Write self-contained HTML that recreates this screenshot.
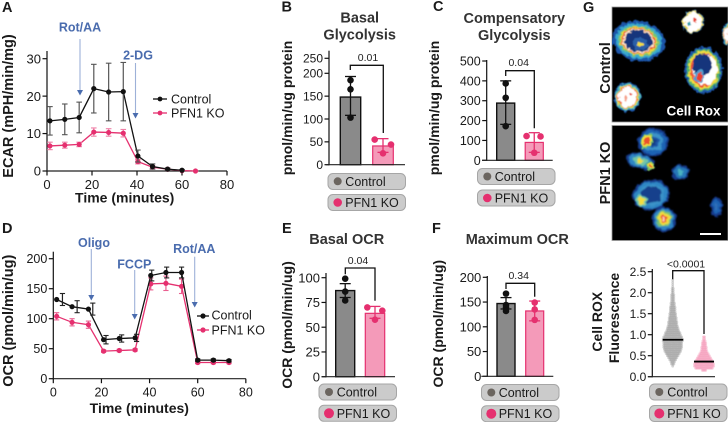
<!DOCTYPE html>
<html lang="en">
<head>
<meta charset="utf-8">
<title>PFN1 KO metabolic figure</title>
<style>
html,body{margin:0;padding:0;background:#fff;}
body{width:728px;height:422px;overflow:hidden;}
svg{display:block;font-family:"Liberation Sans",Arial,sans-serif;}
.letter{font-size:14.5px;font-weight:700;fill:#1a1a1a;}
.title{font-size:14.5px;font-weight:700;fill:#333;text-anchor:middle;}
.axt{font-size:14px;font-weight:700;fill:#1a1a1a;text-anchor:middle;}
.drug{font-size:12.5px;font-weight:700;fill:#4a6cae;text-anchor:middle;}
.leg{font-size:12.5px;fill:#1a1a1a;}
.p{font-size:10.5px;fill:#222;text-anchor:middle;}
.pill{fill:#cbcbcb;stroke:#a6a6a6;stroke-width:1;}
</style>
</head>
<body>
<svg id="fig" width="728" height="422" viewBox="0 0 728 422" xmlns="http://www.w3.org/2000/svg">
<defs>
<filter id="soft" x="-30%" y="-30%" width="160%" height="160%"><feTurbulence type="fractalNoise" baseFrequency="0.2" numOctaves="2" seed="5" result="n"/><feDisplacementMap in="SourceGraphic" in2="n" scale="5" xChannelSelector="R" yChannelSelector="G"/><feGaussianBlur stdDeviation="0.8"/></filter>
<filter id="softer" x="-30%" y="-30%" width="160%" height="160%"><feTurbulence type="fractalNoise" baseFrequency="0.25" numOctaves="2" seed="3" result="n"/><feDisplacementMap in="SourceGraphic" in2="n" scale="6" xChannelSelector="R" yChannelSelector="G"/><feGaussianBlur stdDeviation="0.4"/></filter>
<clipPath id="clipTop"><rect x="612" y="7" width="116" height="115"/></clipPath>
<clipPath id="clipBot"><rect x="612" y="125.5" width="116" height="115"/></clipPath>
</defs>

<text class="letter" x="2" y="12">A</text>
<text class="letter" x="281.5" y="11.5">B</text>
<text class="letter" x="433" y="11">C</text>
<text class="letter" x="2" y="233">D</text>
<text class="letter" x="282" y="233">E</text>
<text class="letter" x="432" y="233">F</text>
<text class="letter" x="583" y="12">G</text>

<text class="axt" style="font-size:14.5px" transform="translate(13,106) rotate(-90)">ECAR (mPH/min/mg)</text>
<text class="axt" x="124.7" y="202.5">Time (minutes)</text>
<text class="drug" x="80" y="31.5">Rot/AA</text>
<text class="drug" x="138" y="59.5">2-DG</text>
<text class="leg" x="171" y="103.5">Control</text>
<text class="leg" x="171" y="117.5">PFN1 KO</text>

<text class="axt" style="font-size:14.5px" transform="translate(13,320.7) rotate(-90)">OCR (pmol/min/ug)</text>
<text class="axt" x="139.3" y="413">Time (minutes)</text>
<text class="drug" x="94" y="247">Oligo</text>
<text class="drug" x="134.3" y="268.7">FCCP</text>
<text class="drug" x="194.3" y="253">Rot/AA</text>
<text class="leg" x="211.5" y="319.5">Control</text>
<text class="leg" x="211.5" y="334.5">PFN1 KO</text>

<text class="title" x="359.7" y="22.5">Basal</text>
<text class="title" x="359.7" y="39.5">Glycolysis</text>
<text class="axt" transform="translate(292,108) rotate(-90)">pmol/min/ug protein</text>
<text class="p" x="368" y="61">0.01</text>

<text class="title" x="514.3" y="23">Compensatory</text>
<text class="title" x="514.3" y="40">Glycolysis</text>
<text class="axt" transform="translate(439,108) rotate(-90)">pmol/min/ug protein</text>
<text class="p" x="518.7" y="66">0.04</text>

<text class="title" x="346.7" y="244">Basal OCR</text>
<text class="axt" transform="translate(292,325) rotate(-90)">OCR (pmol/min/ug)</text>
<text class="p" x="358" y="264">0.04</text>

<text class="title" x="517.3" y="244">Maximum OCR</text>
<text class="axt" transform="translate(443,323.7) rotate(-90)">OCR (pmol/min/ug)</text>
<text class="p" x="518.7" y="279">0.34</text>

<g>
<rect class="pill" x="328" y="173.5" width="77.5" height="16" rx="5"/><circle cx="337.7" cy="181.3" r="4" fill="#6b655f"/><text class="leg" x="345.3" y="186">Control</text>
<rect class="pill" x="328" y="194.5" width="77.5" height="16" rx="5"/><circle cx="337.7" cy="202.5" r="4.3" fill="#e5306f"/><text class="leg" x="345.3" y="207">PFN1 KO</text>
</g>
<g>
<rect class="pill" x="477.5" y="168.5" width="77.5" height="16" rx="5"/><circle cx="487.3" cy="176.5" r="4" fill="#6b655f"/><text class="leg" x="494.7" y="181">Control</text>
<rect class="pill" x="477.5" y="190" width="77.5" height="16" rx="5"/><circle cx="487.3" cy="198" r="4.3" fill="#e5306f"/><text class="leg" x="494.7" y="202.5">PFN1 KO</text>
</g>
<g>
<rect class="pill" x="319" y="384" width="77.5" height="16" rx="5"/><circle cx="329" cy="392" r="4" fill="#6b655f"/><text class="leg" x="336.7" y="396.5">Control</text>
<rect class="pill" x="319" y="405.3" width="77.5" height="16" rx="5"/><circle cx="329" cy="413.3" r="5" fill="#e5306f"/><text class="leg" x="336.7" y="418">PFN1 KO</text>
</g>
<g>
<rect class="pill" x="481.5" y="384.5" width="77.5" height="16" rx="5"/><circle cx="491.3" cy="392.5" r="4" fill="#6b655f"/><text class="leg" x="498.7" y="397">Control</text>
<rect class="pill" x="481.5" y="405.7" width="77.5" height="16" rx="5"/><circle cx="491.3" cy="413.7" r="5" fill="#e5306f"/><text class="leg" x="498.7" y="418.2">PFN1 KO</text>
</g>
<g>
<rect class="pill" x="649.5" y="384" width="77.5" height="16" rx="5"/><circle cx="659.3" cy="392" r="4" fill="#6b655f"/><text class="leg" x="667.3" y="396.5">Control</text>
<rect class="pill" x="649.5" y="405.5" width="77.5" height="16" rx="5"/><circle cx="659.3" cy="413.5" r="5" fill="#e5306f"/><text class="leg" x="667.3" y="418">PFN1 KO</text>
</g>

<rect x="612" y="7" width="116" height="115" fill="#000" stroke="#999" stroke-width="0.8"/>
<g id="cellsTop" clip-path="url(#clipTop)"></g>
<rect x="612" y="125.5" width="116" height="115" fill="#000" stroke="#999" stroke-width="0.8"/>
<g id="cellsBot" clip-path="url(#clipBot)"></g>
<text x="666.5" y="115.5" font-size="13.5" font-weight="700" fill="#fff">Cell Rox</text>
<rect x="700" y="233" width="21" height="2" fill="#fff"/>
<text class="axt" style="font-size:14.5px" transform="translate(610,68) rotate(-90)">Control</text>
<text class="axt" style="font-size:14.5px" transform="translate(610,173) rotate(-90)">PFN1 KO</text>

<text class="axt" transform="translate(602,321.7) rotate(-90)">Cell ROX</text>
<text class="axt" transform="translate(619,318) rotate(-90)">Fluorescence</text>
<text class="p" x="686" y="267.5">&lt;0.0001</text>
</svg>

<script>
// ---------- Panel A data (ECAR) ----------
const ecarControlTime = [1.3, 7.9, 14.3, 20.8, 27.4, 33.9, 40.4, 46.9, 53.6, 60];
const ecarControlMean = [13.4, 13.8, 14.3, 22, 21.1, 21.2, 4, 1.2, 0.5, 0.2];
const ecarControlErr = [3.8, 4.1, 4.1, 6.5, 7.7, 7.8, 1.6, 0.7, 0.3, 0.2];
const ecarKoTime = [1.3, 7.9, 14.3, 20.8, 27.4, 33.9, 40.4, 46.9, 53.6, 60, 66];
const ecarKoMean = [6.7, 6.9, 7.1, 10.4, 10.3, 10.1, 2.5, 1, 0.5, 0.1, 0];
const ecarKoErr = [1, 0.8, 0.6, 1.1, 1, 1, 0.6, 0.4, 0.2, 0.1, 0];
const ecarXTicks = [0, 20, 40, 60, 80];
const ecarYTicks = [0, 10, 20, 30];

// ---------- Panel D data (OCR) ----------
const ocrTime = [1.4, 7.8, 14.6, 20.9, 27.4, 34, 40.5, 46.8, 53.3, 60, 66.5, 73];
const ocrControlMean = [132, 120, 116, 65, 67, 68, 172, 177, 177, 31, 31, 30];
const ocrControlErr = [10, 10, 10, 7, 6, 6, 9, 9, 9, 2, 2, 2];
const ocrControlErrTime = [3.8, 9.9, 16.4, 21.9, 28.4, 34.6, 40.9, 47.1, 53.3, 60, 66.5, 73];
const ocrKoMean = [104, 94, 90, 46, 47, 48, 158, 159, 154, 27, 27, 27];
const ocrKoErr = [6, 6, 6, 2, 2, 2, 10, 12, 12, 2, 2, 2];
const ocrXTicks = [0, 20, 40, 60, 80];
const ocrYTicks = [0, 50, 100, 150, 200];

// ---------- Bar panels data: [control, PFN1 KO] ----------
const basalGlyMeans = [148, 41];
const basalGlyErrHigh = [193, 57];
const basalGlyErrLow = [108, 27];
const basalGlyControlDots = [185, 165, 103];
const basalGlyKoDots = [55, 25, 44];
const basalGlyTicks = [0, 50, 100, 150, 200, 250];

const compGlyMeans = [288, 90];
const compGlyErrHigh = [400, 139];
const compGlyErrLow = [181, 40];
const compGlyControlDots = [387, 315, 172];
const compGlyKoDots = [122, 38, 120];
const compGlyTicks = [0, 100, 200, 300, 400, 500];

const basalOcrMeans = [87, 64];
const basalOcrErrHigh = [94, 71];
const basalOcrErrLow = [80, 59];
const basalOcrControlDots = [99, 86, 77];
const basalOcrKoDots = [70, 57.6, 66.7];
const basalOcrTicks = [0, 25, 50, 75, 100];

const maxOcrMeans = [147, 132];
const maxOcrErrHigh = [159, 152];
const maxOcrErrLow = [136, 112];
const maxOcrControlDots = [167, 144, 139, 132];
const maxOcrKoDots = [149, 135, 114];
const maxOcrTicks = [0, 50, 100, 150, 200];

// ---------- Panel G swarm data: counts per fluorescence level ----------
const swarmLevels = [0.15, 0.2, 0.25, 0.3, 0.35, 0.4, 0.45, 0.5, 0.55, 0.6, 0.65, 0.7, 0.75, 0.8, 0.85, 0.9, 0.95, 1.0, 1.05, 1.1, 1.15, 1.2, 1.25, 1.3, 1.35, 1.4, 1.45, 1.5, 1.55, 1.6, 1.65, 1.7, 1.75, 1.8, 1.85, 1.9, 1.95, 2.0, 2.05, 2.1, 2.15, 2.2, 2.25, 2.3];
const swarmControlCounts = [0, 0, 1, 3, 4, 6, 8, 10, 12, 14, 15, 16, 16, 16, 17, 17, 16, 14, 13, 11, 10, 9, 8, 8, 7, 7, 6, 6, 5, 5, 5, 4, 4, 3, 3, 3, 3, 2, 2, 2, 1, 1, 1, 1];
const swarmKoCounts = [4, 15, 17, 17, 16, 14, 12, 10, 8, 6, 5, 5, 4, 4, 3, 2, 2, 0, 0, 0, 0, 0, 0, 0, 0, 0, 0, 0, 0, 0, 0, 0, 0, 0, 0, 0, 0, 0, 0, 0, 0, 0, 0, 0];
const swarmMeans = [0.88, 0.36];
const swarmTicks = [0, 0.5, 1, 1.5, 2, 2.5];

// ---------- Helpers ----------
const NS = 'http://www.w3.org/2000/svg';
const figureSvg = document.getElementById('fig');
const BLACK = '#111', PINK = '#e5306f', GREY_BAR = '#8a8a8a', PINK_BAR = '#f49ab9';

function mk(tagName, attrs, parent) {
  const n = document.createElementNS(NS, tagName);
  for (const k in attrs) n.setAttribute(k, attrs[k]);
  (parent || figureSvg).appendChild(n);
  return n;
}
function tag(n, name) {
  
  
  return n;
}
// piecewise-linear scale
function scale(domain, range) {
  return function (v) {
    let i = 0;
    while (i < domain.length - 2 && v > domain[i + 1]) i++;
    const t = (v - domain[i]) / (domain[i + 1] - domain[i]);
    return range[i] + t * (range[i + 1] - range[i]);
  };
}
function seg(g, x1, y1, x2, y2, color, w, name) {
  const l = mk('line', { x1: x1, y1: y1, x2: x2, y2: y2, stroke: color, 'stroke-width': w }, g);
  return tag(l, name);
}
function yAxis(g, x, yFn, ticks, topY, size, fmt) {
  seg(g, x, yFn(ticks[0]) + 0.6, x, topY, BLACK, 1.2, 'y-axis-line');
  ticks.forEach(function (t) {
    seg(g, x - 4.5, yFn(t), x, yFn(t), BLACK, 1.2, 'y-tick');
    const lab = mk('text', { x: x - 6, y: yFn(t) + size * 0.36, 'font-size': size, 'text-anchor': 'end', fill: '#1a1a1a' }, g);
    lab.textContent = fmt ? fmt(t) : t;
    tag(lab, 'y-tick-label');
  });
}
function xAxisLine(g, y, x1, x2) {
  seg(g, x1, y, x2, y, '#222', 1.2, 'x-axis-line');
}
function xTicks(g, xFn, y, ticks, size) {
  ticks.forEach(function (t) {
    seg(g, xFn(t), y, xFn(t), y + 4.5, BLACK, 1.2, 'x-tick');
    const lab = mk('text', { x: xFn(t), y: y + 18, 'font-size': size, 'text-anchor': 'middle', fill: '#1a1a1a' }, g);
    lab.textContent = t;
    tag(lab, 'x-tick-label');
  });
}
function bracket(g, x1, yTop, yL, x2, yR) {
  const p = mk('path', { d: 'M' + x1 + ' ' + yL + 'V' + yTop + 'H' + x2 + 'V' + yR, fill: 'none', stroke: '#111', 'stroke-width': 1.3 }, g);
  return tag(p, 'significance-bracket');
}
function arrow(g, x, y1, y2) {
  seg(g, x, y1, x, y2, '#9db1d8', 1.1, 'treatment-arrow-shaft');
  const h = mk('path', { d: 'M' + (x - 3) + ' ' + y2 + 'H' + (x + 3) + 'L' + x + ' ' + (y2 + 5.5) + 'Z', fill: '#4a6cae' }, g);
  tag(h, 'treatment-arrow-head');
}
function series(g, name, xFn, yFn, times, means, errs, errTimes, color, errColor, capHalf, r) {
  const pts = times.map(function (t, i) { return xFn(t) + ',' + yFn(means[i]); }).join(' ');
  tag(mk('polyline', { points: pts, fill: 'none', stroke: color, 'stroke-width': 1.3 }, g), name + '-line');
  times.forEach(function (t, i) {
    const ex = xFn(errTimes[i]);
    const yh = yFn(means[i] + errs[i]), yl = yFn(means[i] - errs[i]);
    seg(g, ex, yh, ex, yl, errColor, 1.2, name + '-error-bar');
    seg(g, ex - capHalf, yh, ex + capHalf, yh, errColor, 1.1, name + '-error-cap');
    seg(g, ex - capHalf, yl, ex + capHalf, yl, errColor, 1.1, name + '-error-cap');
  });
  times.forEach(function (t, i) {
    tag(mk('circle', { cx: xFn(t), cy: yFn(means[i]), r: r, fill: color }, g), name + '-point');
  });
}
function barPanel(name, o) {
  const g = tag(mk('g', {}), name + '-chart');
  const y = o.y;
  const base = y(0);
  const cx = [(o.bars[0] + o.bars[1]) / 2, (o.bars[2] + o.bars[3]) / 2];
  yAxis(g, o.axisX, y, o.ticks, o.top, o.size);
  const r1 = mk('rect', { x: o.bars[0], y: y(o.means[0]), width: o.bars[1] - o.bars[0], height: base - y(o.means[0]), fill: GREY_BAR, stroke: '#111', 'stroke-width': 1.4 }, g);
  tag(r1, name + '-bar-control');
  const r2 = mk('rect', { x: o.bars[2], y: y(o.means[1]), width: o.bars[3] - o.bars[2], height: base - y(o.means[1]), fill: PINK_BAR, stroke: PINK, 'stroke-width': 1.2 }, g);
  tag(r2, name + '-bar-pfn1-ko');
  [0, 1].forEach(function (i) {
    const c = i ? PINK : '#111';
    seg(g, cx[i], y(o.hi[i]), cx[i], y(o.lo[i]), c, 1.3, name + '-error-bar');
    seg(g, cx[i] - o.cap, y(o.hi[i]), cx[i] + o.cap, y(o.hi[i]), c, 1.3, name + '-error-cap');
    seg(g, cx[i] - o.cap, y(o.lo[i]), cx[i] + o.cap, y(o.lo[i]), c, 1.3, name + '-error-cap');
  });
  o.controlDots.forEach(function (v) {
    tag(mk('circle', { cx: cx[0], cy: y(v), r: 3.3, fill: '#111' }, g), name + '-control-dot');
  });
  o.koDots.forEach(function (v, i) {
    const off = o.koOffsets[i];
    tag(mk('circle', { cx: cx[1] + off, cy: y(v), r: 3.3, fill: PINK }, g), name + '-pfn1-ko-dot');
  });
  xAxisLine(g, base, o.axisLeft, o.axisRight);
  bracket(g, o.br[0], o.br[1], o.br[2], o.br[3], o.br[4]);
}

// ---------- Panel A ----------
(function () {
  const g = tag(mk('g', {}), 'ecar-chart');
  const x = scale([0, 80], [47, 227]);
  const y = scale([0, 30], [171, 58.7]);
  yAxis(g, 47, y, ecarYTicks, 51, 13);
  xAxisLine(g, 171, 47, 227);
  xTicks(g, x, 171, ecarXTicks, 13);
  series(g, 'ecar-pfn1-ko', x, y, ecarKoTime, ecarKoMean, ecarKoErr, ecarKoTime, PINK, '#ee7fa6', 2.8, 2.6);
  series(g, 'ecar-control', x, y, ecarControlTime, ecarControlMean, ecarControlErr, ecarControlTime, '#111', '#555', 2.8, 2.6);
  arrow(g, 80, 39, 90);
  arrow(g, 135.5, 63, 113);
  seg(g, 153, 99, 167, 99, '#111', 1.3, 'legend-line-control');
  tag(mk('circle', { cx: 160, cy: 99, r: 2.4, fill: '#111' }, g), 'legend-marker-control');
  seg(g, 153, 113, 167, 113, PINK, 1.3, 'legend-line-pfn1-ko');
  tag(mk('circle', { cx: 160, cy: 113, r: 2.4, fill: PINK }, g), 'legend-marker-pfn1-ko');
})();

// ---------- Panel D ----------
(function () {
  const g = tag(mk('g', {}), 'ocr-chart');
  const x = scale([0, 60], [53.3, 197.7]);
  const y = scale([0, 200], [378.7, 258.7]);
  yAxis(g, 53.3, y, ocrYTicks, 251.7, 12.5);
  xAxisLine(g, 378.7, 53.3, 245.9);
  xTicks(g, x, 378.7, ocrXTicks, 12.5);
  series(g, 'ocr-pfn1-ko', x, y, ocrTime, ocrKoMean, ocrKoErr, ocrTime, PINK, '#ea5f90', 2.6, 2.6);
  series(g, 'ocr-control', x, y, ocrTime, ocrControlMean, ocrControlErr, ocrControlErrTime, '#111', '#222', 2.6, 2.6);
  arrow(g, 91.3, 249, 295);
  arrow(g, 134.7, 270, 314);
  arrow(g, 194.7, 256.7, 302);
  seg(g, 197, 316, 209, 316, '#111', 1.3, 'legend-line-control');
  tag(mk('circle', { cx: 203, cy: 316, r: 2.6, fill: '#111' }, g), 'legend-marker-control');
  seg(g, 197, 330, 209, 330, PINK, 1.3, 'legend-line-pfn1-ko');
  tag(mk('circle', { cx: 203, cy: 330, r: 2.6, fill: PINK }, g), 'legend-marker-pfn1-ko');
})();

// ---------- Bars ----------
barPanel('basal-glycolysis', {
  y: scale([0, 200, 250], [164.7, 73.3, 58.3]), ticks: basalGlyTicks, means: basalGlyMeans,
  hi: basalGlyErrHigh, lo: basalGlyErrLow, controlDots: basalGlyControlDots, koDots: basalGlyKoDots,
  koOffsets: [-8.3, 0, 8], axisX: 329, top: 50.7, size: 12, axisLeft: 326, axisRight: 405,
  bars: [340.3, 360.7, 372.7, 393.3], cap: 5.5, br: [350.3, 65.3, 70, 383.3, 133]
});
barPanel('compensatory-glycolysis', {
  y: scale([0, 500], [160.3, 61]), ticks: compGlyTicks, means: compGlyMeans,
  hi: compGlyErrHigh, lo: compGlyErrLow, controlDots: compGlyControlDots, koDots: compGlyKoDots,
  koOffsets: [-7.7, 0, 6.3], axisX: 486.7, top: 60, size: 12.5, axisLeft: 482, axisRight: 552.7,
  bars: [496.7, 514.7, 525.2, 543.3], cap: 5.5, br: [505.7, 70.7, 76, 534.3, 128.3]
});
barPanel('basal-ocr', {
  y: scale([0, 100], [376.7, 277.7]), ticks: basalOcrTicks, means: basalOcrMeans,
  hi: basalOcrErrHigh, lo: basalOcrErrLow, controlDots: basalOcrControlDots, koDots: basalOcrKoDots,
  koOffsets: [-7.7, 0, 7.3], axisX: 326, top: 273, size: 13, axisLeft: 321.7, axisRight: 395,
  bars: [335.7, 354.7, 365.3, 384.7], cap: 5.5, br: [345.3, 268, 274.3, 375, 300.7]
});
barPanel('maximum-ocr', {
  y: scale([0, 200], [376.3, 277.3]), ticks: maxOcrTicks, means: maxOcrMeans,
  hi: maxOcrErrHigh, lo: maxOcrErrLow, controlDots: maxOcrControlDots, koDots: maxOcrKoDots,
  koOffsets: [0, 0, 0], axisX: 487.3, top: 276, size: 13, axisLeft: 481.3, axisRight: 553.3,
  bars: [497, 515, 525.7, 543.7], cap: 5.5, br: [506, 283.3, 289, 534.7, 296.7]
});

// ---------- Swarm ----------
(function () {
  const g = tag(mk('g', {}), 'cell-rox-chart');
  const y = scale([0, 2.5], [376.7, 271.7]);
  yAxis(g, 652.3, y, swarmTicks, 269, 12, function (t) { return t.toFixed(1); });
  xAxisLine(g, y(0), 648, 715);
  function swarm(cx, counts, color, name) {
    swarmLevels.forEach(function (lv, i) {
      const n = counts[i];
      for (let k = 0; k < n; k++) {
        const c = mk('circle', { cx: cx + (k - (n - 1) / 2) * 1.2, cy: y(lv), r: 1.35, fill: color, 'fill-opacity': 0.38 }, g);
        
        
      }
    });
  }
  swarm(672.7, swarmControlCounts, '#8a8a8a', 'control-cell-point');
  swarm(704, swarmKoCounts, '#f27ea6', 'pfn1-ko-cell-point');
  seg(g, 662.7, y(swarmMeans[0]), 683.3, y(swarmMeans[0]), '#000', 1.8, 'control-mean-line');
  seg(g, 694, y(swarmMeans[1]), 714, y(swarmMeans[1]), '#000', 1.8, 'pfn1-ko-mean-line');
  bracket(g, 672.7, 270.7, 279.3, 704, 334);
})();

// ---------- Micrographs (decorative cell rendering, not chart data) ----------
function cell(parent, cx, cy, rx, ry, rot, stops, filter) {
  const c = tag(mk('g', { transform: 'translate(' + cx + ',' + cy + ') rotate(' + rot + ')', filter: 'url(#' + filter + ')' }, parent), 'cell');
  stops.forEach(function (s) {
    const e = mk('ellipse', { cx: (s[2] || 0) * rx, cy: (s[3] || 0) * ry, rx: rx * s[0], ry: ry * s[0], fill: s[1] }, c);
    
    
  });
}
const ringCell = [[1.12, '#1c55a8'], [0.96, '#37a9cf'], [0.84, '#7cc46c'], [0.77, '#f2dd3c'], [0.72, '#e8402f'], [0.67, '#ffe9c8'], [0.6, '#12347c'], [0.34, '#2a5fa8', 0.1, 0.15], [0.14, '#f2dd3c', 0.1, 0.15]];
const hotCell = [[1.1, '#1c55a8'], [1, '#4fb8b8'], [0.88, '#f2dd3c'], [0.8, '#ef5a3a'], [0.74, '#ffffff'], [0.14, '#f6a38c', -0.15, 0.1], [0.1, '#e8402f', 0.25, -0.2]];
const topImage = document.getElementById('cellsTop');
cell(topImage, 638.5, 41, 24, 18, 10, ringCell, 'softer');
cell(topImage, 693, 22, 10, 10.5, 0, [[1.08, '#3a86b8'], [1, '#f2dd3c'], [0.9, '#ffffff'], [0.14, '#e8402f', 0.2, -0.2], [0.18, '#2f9fb0', -0.45, 0.2]], 'softer');
cell(topImage, 703.5, 70, 17, 21, 0, [[1.12, '#1c55a8'], [1, '#4fb06c'], [0.9, '#f2dd3c'], [0.8, '#ef5a3a'], [0.72, '#ffffff', 0.12, 0], [0.55, '#12347c', -0.08, -0.25], [0.3, '#4f9fd0', -0.25, 0.3], [0.2, '#e8402f', -0.25, 0.3]], 'softer');
cell(topImage, 627.5, 97, 12.5, 13.5, 0, hotCell, 'softer');
cell(topImage, 728, 34, 6, 10, 0, hotCell, 'softer');
const botImage = document.getElementById('cellsBot');
const blueCell = [[1.1, '#123a8c'], [0.95, '#1f63b4'], [0.7, '#3b93c8'], [0.45, '#1c55a8'], [0.3, '#173c84']];
cell(botImage, 653, 142, 14, 13, 0, blueCell, 'soft');
cell(botImage, 646.5, 141, 6, 8, 20, [[1, '#7cc46c'], [0.8, '#f2dd3c'], [0.5, '#e8502f']], 'softer');
cell(botImage, 640, 161, 13, 7, 15, [[1.1, '#123a8c'], [0.9, '#2f86c4'], [0.6, '#70c6a8'], [0.32, '#f2dd3c']], 'soft');
cell(botImage, 650, 166, 4, 4, 0, [[1, '#7cc46c'], [0.7, '#f2dd3c'], [0.4, '#e8502f']], 'softer');
cell(botImage, 680.5, 172.5, 8, 7, 0, [[1.1, '#123a8c'], [0.85, '#2878b8'], [0.45, '#4ab2c0']], 'soft');
cell(botImage, 651, 195, 18, 14.5, -10, [[1.05, '#123a8c'], [0.92, '#2f86c4'], [0.72, '#3b93c8'], [0.58, '#14408c']], 'soft');
cell(botImage, 641.5, 201, 6, 6, 0, [[1, '#70c6a8'], [0.7, '#f2dd3c']], 'soft');
cell(botImage, 664, 219, 11, 11.5, 0, [[1.1, '#123a8c'], [0.9, '#2f86c4'], [0.7, '#7cc46c'], [0.55, '#f2dd3c'], [0.35, '#e8502f'], [0.18, '#ffd8c0']], 'soft');
cell(botImage, 716.5, 207, 5.5, 9, 0, [[1.1, '#123a8c'], [0.8, '#1f63b4'], [0.4, '#3370b8']], 'soft');
</script>
</body>
</html>
